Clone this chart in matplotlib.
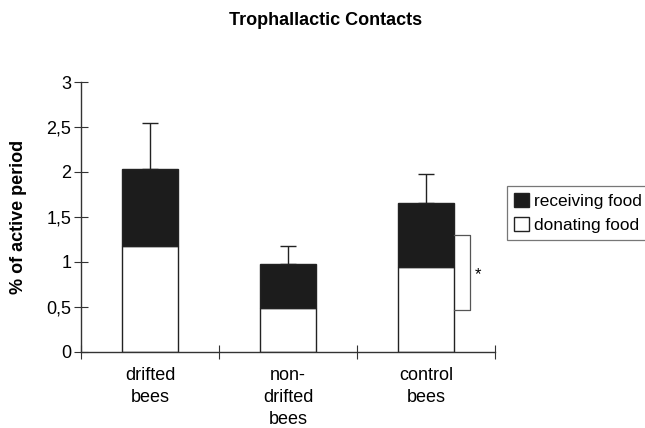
import numpy as np
import matplotlib.pyplot as plt
from matplotlib.patches import Patch

plt.rcParams['font.family'] = ['Liberation Sans', 'DejaVu Sans']

# data
groups = ['drifted\nbees', 'non-\ndrifted\nbees', 'control\nbees']
donating = [1.18, 0.49, 0.94]
receiving = [0.85, 0.49, 0.71]   # stacked on top of donating
err_top = [2.54, 1.18, 1.98]     # upper end of error bar
sig_low, sig_high = 0.47, 1.30   # bracket on control bees

x = np.arange(len(groups))
totals = np.array(donating) + np.array(receiving)

fig = plt.figure(figsize=(6.45, 4.28), dpi=100)
ax = fig.add_axes([0.1256, 0.1776, 0.6419, 0.6308])

ax.bar(x, donating, width=0.41, color='white', edgecolor='#222222', linewidth=1.0, zorder=2)
ax.bar(x, receiving, bottom=donating, width=0.41, color='#1c1c1c', edgecolor='#222222',
       linewidth=1.0, zorder=2)
ax.errorbar(x, totals, yerr=[np.zeros(3), np.array(err_top) - totals], fmt='none',
            ecolor='#222222', elinewidth=1.0, capsize=6, capthick=1.0, zorder=1)

# significance bracket
bx0 = x[2] + 0.205
bx1 = bx0 + 0.11
ax.plot([bx0, bx1, bx1, bx0], [sig_high, sig_high, sig_low, sig_low], color='#555555', lw=0.9)
ax.text(bx1 + 0.06, (sig_low + sig_high) / 2 - 0.02, '*', fontsize=12, ha='center', va='center')

ax.set_xlim(-0.5, 2.5)
ax.set_ylim(0, 3)
ax.set_yticks([0, 0.5, 1, 1.5, 2, 2.5, 3])
ax.set_yticklabels(['0', '0,5', '1', '1,5', '2', '2,5', '3'], fontsize=13)
ax.set_xticks([-0.5, 0.5, 1.5, 2.5])
ax.set_xticklabels([])
ax.set_xticks(x, minor=True)
ax.set_xticklabels(groups, minor=True, fontsize=13, va='top', linespacing=1.38)
ax.tick_params(axis='x', which='minor', length=0, pad=11)
ax.tick_params(axis='x', which='major', direction='inout', length=10, color='#333333')
ax.tick_params(axis='y', direction='inout', length=10, color='#333333', pad=2)

for s in ['top', 'right']:
    ax.spines[s].set_visible(False)
for s in ['left', 'bottom']:
    ax.spines[s].set_color('#333333')
    ax.spines[s].set_linewidth(1.0)

ax.set_ylabel('% of active period', fontsize=13, fontweight='bold', labelpad=14)
fig.text(0.504, 0.953, 'Trophallactic Contacts', fontsize=13, fontweight='bold',
         ha='center', va='center')

handles = [Patch(facecolor='#1c1c1c', edgecolor='#222222'),
           Patch(facecolor='white', edgecolor='#222222')]
leg = fig.legend(handles, ['receiving food', 'donating food'], loc='upper left',
                 bbox_to_anchor=(0.786, 0.565), fontsize=12.4, frameon=True, fancybox=False,
                 edgecolor='#555555', handlelength=0.9, handleheight=0.9, handletextpad=0.25,
                 borderpad=0.4, labelspacing=0.45, borderaxespad=0)
leg.get_frame().set_linewidth(0.9)

fig.savefig('out.png', dpi=100)
